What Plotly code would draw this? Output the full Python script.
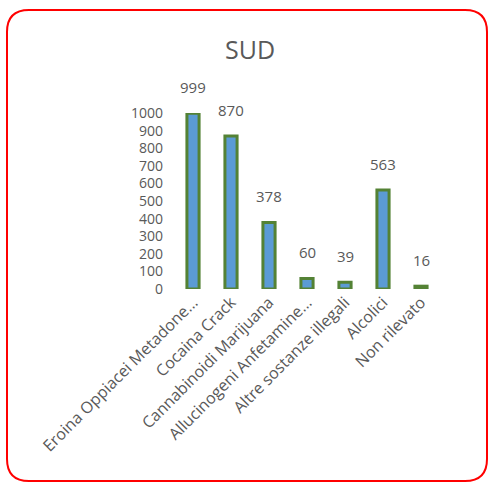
import plotly.graph_objects as go

categories = ["Eroina Oppiacei Metadone...", "Cocaina Crack", "Cannabinoidi Marijuana",
              "Allucinogeni Anfetamine...", "Altre sostanze illegali", "Alcolici", "Non rilevato"]
values = [999, 870, 378, 60, 39, 563, 16]
y_ticks = list(range(0, 1001, 100))

W = H = 489
L, R, T, B = 174, 49, 113, 200
pw, ph = W - L - R, H - T - B

def px(x):
    return (x - L) / pw

def py(y):
    return (H - B - y) / ph

gray = "#595959"
font = "Open Sans"

fig = go.Figure()
fig.add_trace(go.Bar(
    x=categories, y=values, width=0.32,
    marker=dict(color="#5B9BD5", line=dict(color="#548235", width=3)),
    hoverinfo="x+y",
))

annotations = []
for c, v in zip(categories, values):
    annotations.append(dict(x=c, y=v, xref="x", yref="y", text=str(v), showarrow=False,
                            yanchor="bottom", yshift=14, font=dict(family=font, size=15, color=gray)))

# rounded border
x0, x1, y0, y1, r = 7, 487, 10, 481, 22
path = (f"M {px(x0 + r)} {py(y0)} L {px(x1 - r)} {py(y0)} Q {px(x1)} {py(y0)} {px(x1)} {py(y0 + r)} "
        f"L {px(x1)} {py(y1 - r)} Q {px(x1)} {py(y1)} {px(x1 - r)} {py(y1)} "
        f"L {px(x0 + r)} {py(y1)} Q {px(x0)} {py(y1)} {px(x0)} {py(y1 - r)} "
        f"L {px(x0)} {py(y0 + r)} Q {px(x0)} {py(y0)} {px(x0 + r)} {py(y0)} Z")

fig.update_layout(
    width=W, height=H,
    margin=dict(l=L, r=R, t=T, b=B, autoexpand=False),
    paper_bgcolor="white", plot_bgcolor="white",
    showlegend=False,
    title=dict(text="SUD", x=250 / W, xanchor="center", y=1 - 50 / H, yanchor="middle",
               font=dict(family=font, size=25, color=gray)),
    font=dict(family=font, size=14, color=gray),
    annotations=annotations,
    shapes=[dict(type="path", path=path, xref="paper", yref="paper",
                 line=dict(color="#FF0000", width=2), fillcolor="rgba(0,0,0,0)", layer="above")],
)
fig.update_xaxes(tickangle=-45, showline=False, showgrid=False, zeroline=False,
                 tickfont=dict(family=font, size=16, color=gray), ticks="")
fig.update_yaxes(range=[0, 1000], tickvals=y_ticks, showgrid=False, zeroline=False, showline=False,
                 ticklabelstandoff=10, tickfont=dict(family=font, size=14, color=gray))

fig.write_html("out.html", config={"displayModeBar": False},
               post_script="document.body.style.margin='0';")
